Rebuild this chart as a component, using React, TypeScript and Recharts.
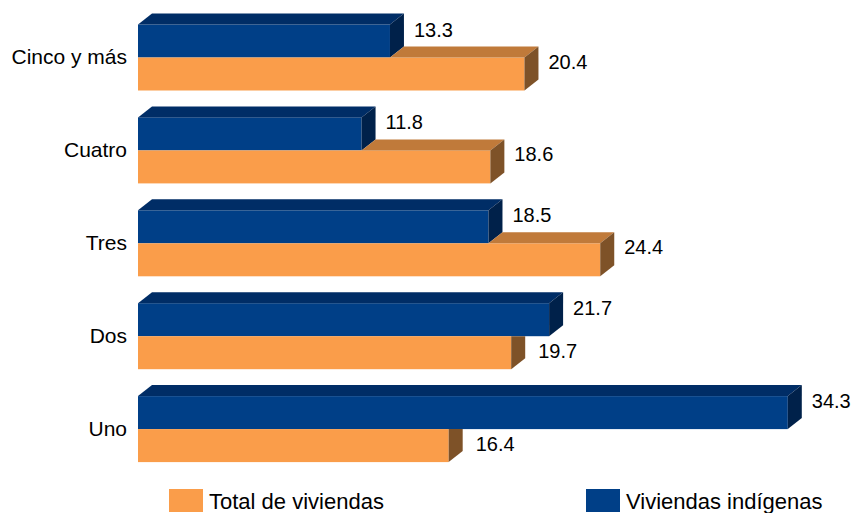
import { BarChart, Bar, XAxis, YAxis, LabelList, Legend } from "recharts";

// Distribución de viviendas por número de cuartos (%)
const categories = ["Cinco y más", "Cuatro", "Tres", "Dos", "Uno"];
const indigenas = [13.3, 11.8, 18.5, 21.7, 34.3];
const totalViv = [20.4, 18.6, 24.4, 19.7, 16.4];

const data = categories.map((cat, i) => ({
  cat,
  indigenas: indigenas[i],
  total: totalViv[i],
}));

const FONT = "'Liberation Sans', Arial, sans-serif";
const DX = 14;
const DY = 11;

const BLUE = { front: "#003F87", top: "#002D66", side: "#00214A" };
const ORANGE = { front: "#FA9D4A", top: "#C07A3A", side: "#7E5228" };

const pts = (p: number[][]) => p.map((q) => q.join(",")).join(" ");

function BlueBox(props: any) {
  const { x, y, width: w, height: h } = props;
  return (
    <g>
      <rect x={x} y={y} width={w} height={h} fill={BLUE.front} />
      <polygon
        points={pts([[x, y], [x + DX, y - DY], [x + w + DX, y - DY], [x + w, y]])}
        fill={BLUE.top}
      />
      <polygon
        points={pts([[x + w, y], [x + w + DX, y - DY], [x + w + DX, y + h - DY], [x + w, y + h]])}
        fill={BLUE.side}
      />
    </g>
  );
}

// orange box sits below the blue one; hide the parts the blue box covers
function OrangeBox(props: any) {
  const { x, y, width: w, height: h, payload } = props;
  const ox = x + w;
  const bx = x + (w * payload.indigenas) / payload.total;
  return (
    <g>
      <rect x={x} y={y} width={w} height={h} fill={ORANGE.front} />
      {ox > bx ? (
        <>
          <polygon
            points={pts([[bx, y], [bx + DX, y - DY], [ox + DX, y - DY], [ox, y]])}
            fill={ORANGE.top}
          />
          <polygon
            points={pts([[ox, y], [ox + DX, y - DY], [ox + DX, y + h - DY], [ox, y + h]])}
            fill={ORANGE.side}
          />
        </>
      ) : (
        <polygon
          points={pts([[ox, y], [ox + DX, y], [ox + DX, y + h - DY], [ox, y + h]])}
          fill={ORANGE.side}
        />
      )}
    </g>
  );
}

const valueText = (x: number, y: number, value: any) => (
  <text
    x={x}
    y={y}
    dominantBaseline="central"
    fontFamily={FONT}
    fontSize={20}
    fill="#000"
  >
    {Number(value).toFixed(1)}
  </text>
);

const BlueLabel = (props: any) => {
  const { x, y, width, value } = props;
  return valueText(x + width + 24, y + 5, value);
};

const OrangeLabel = (props: any) => {
  const { x, y, width, value, index } = props;
  const covered = data[index].indigenas > data[index].total;
  return covered
    ? valueText(x + width + 27, y + 15, value)
    : valueText(x + width + 24, y + 4, value);
};

const CatTick = (props: any) => {
  const { y, payload } = props;
  return (
    <text
      x={127}
      y={y - 1}
      textAnchor="end"
      dominantBaseline="central"
      fontFamily={FONT}
      fontSize={21}
      fill="#000"
    >
      {payload.value}
    </text>
  );
};

const legendItems = [
  { label: "Total de viviendas", color: ORANGE.front, left: 169 },
  { label: "Viviendas indígenas", color: BLUE.front, left: 586 },
];

const LegendBox = () => (
  <div style={{ position: "relative", width: 856, height: 26 }}>
    {legendItems.map((it) => (
      <div
        key={it.label}
        style={{
          position: "absolute",
          left: it.left,
          top: 0,
          display: "flex",
          alignItems: "center",
          fontFamily: FONT,
          fontSize: 22,
          color: "#000",
          whiteSpace: "nowrap",
        }}
      >
        <span
          style={{
            display: "inline-block",
            width: 34,
            height: 23,
            background: it.color,
            marginRight: 6,
          }}
        />
        <span style={{ position: "relative", top: 2 }}>{it.label}</span>
      </div>
    ))}
  </div>
);

export default function App() {
  return (
    <div
      style={{
        position: "absolute",
        left: 0,
        top: 0,
        width: 856,
        height: 513,
        background: "#fff",
      }}
    >
      <BarChart
        width={856}
        height={513}
        layout="vertical"
        data={data}
        margin={{ top: 11, right: 36, bottom: 37.5, left: 0 }}
        barCategoryGap={13.5}
        barGap={0}
      >
        <XAxis type="number" domain={[0, 36]} hide />
        <YAxis
          type="category"
          dataKey="cat"
          width={138}
          axisLine={false}
          tickLine={false}
          tick={<CatTick />}
          interval={0}
        />
        <Bar dataKey="indigenas" shape={<BlueBox />} isAnimationActive={false}>
          <LabelList dataKey="indigenas" content={<BlueLabel />} />
        </Bar>
        <Bar dataKey="total" shape={<OrangeBox />} isAnimationActive={false}>
          <LabelList dataKey="total" content={<OrangeLabel />} />
        </Bar>
        <Legend
          layout="horizontal"
          verticalAlign="middle"
          align="center"
          content={() => <LegendBox />}
          wrapperStyle={{ position: "absolute", left: 0, top: 487, width: 856 }}
        />
      </BarChart>
    </div>
  );
}
